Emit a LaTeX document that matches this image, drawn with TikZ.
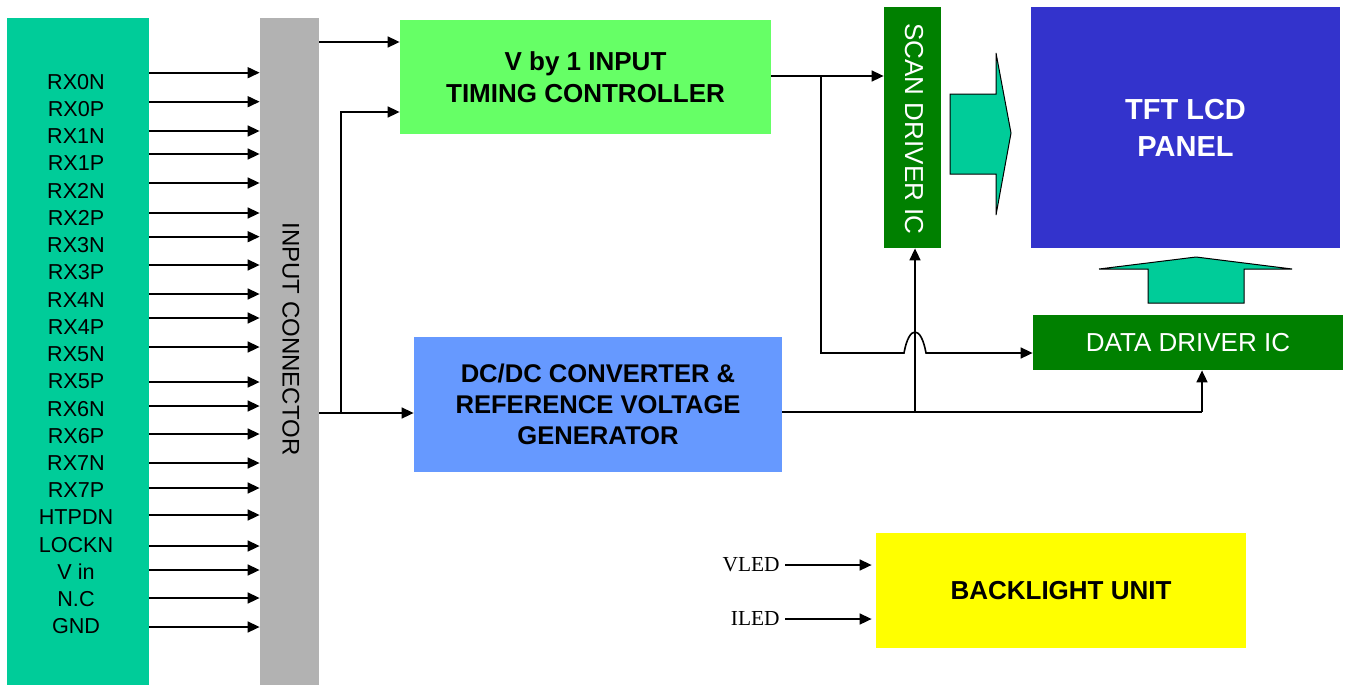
\documentclass[tikz,border=0pt]{standalone}
\usepackage{fontspec}
\setmainfont{Liberation Sans}
\newfontfamily\timesfont{Liberation Serif}
\usetikzlibrary{arrows.meta}
\usetikzlibrary{positioning}

\definecolor{rxgreen}{RGB}{0,204,153}
\definecolor{conngray}{RGB}{178,178,178}
\definecolor{tcongreen}{RGB}{102,255,102}
\definecolor{dcblue}{RGB}{102,153,255}
\definecolor{drvgreen}{RGB}{0,128,0}
\definecolor{lcdblue}{RGB}{51,51,204}
\definecolor{bluyellow}{RGB}{255,255,0}

\tikzset{
  block/.style={inner sep=0pt, draw=none},
  sigline/.style={line width=0.8pt, -{Triangle[length=6pt,width=5.5pt]}},
  wire/.style={line width=0.8pt},
  bigarrow/.style={fill=rxgreen, draw=black, line width=0.5pt},
}

\begin{document}
\begin{tikzpicture}[x=0.5pt,y=-0.5pt]
  \useasboundingbox (0,0) rectangle (1347,685);

  % Place blocks
  \node[block, fill=rxgreen, minimum width=71pt, minimum height=333.5pt] (rxpanel) at (78,351.5) {};
  \node[block, fill=conngray, minimum width=29.5pt, minimum height=333.5pt] (conn) at (289.5,351.5) {};
  \node[block, fill=tcongreen, minimum width=185.5pt, minimum height=57pt,
        font=\fontsize{13}{16}\selectfont\bfseries, align=center] (tcon) at (585.5,77) {V by 1 INPUT\\TIMING CONTROLLER};
  \node[block, fill=dcblue, minimum width=184pt, minimum height=67.5pt,
        font=\fontsize{12.8}{15.5}\selectfont\bfseries, align=center] (dcdc) at (598,404.5) {DC/DC CONVERTER \&\\REFERENCE VOLTAGE\\GENERATOR};
  \node[block, fill=drvgreen, minimum width=28.5pt, minimum height=120.5pt] (scan) at (912.5,127.5) {};
  \node[block, fill=lcdblue, minimum width=154.5pt, minimum height=120.5pt, text=white,
        font=\fontsize{14.5}{18.5}\selectfont\bfseries, align=center] (lcd) at (1185.5,127.5) {TFT LCD\\PANEL};
  \node[block, fill=drvgreen, minimum width=155pt, minimum height=27.5pt, text=white,
        font=\fontsize{13}{16}\selectfont] (data) at (1188,342.5) {DATA DRIVER IC};
  \node[block, fill=bluyellow, minimum width=185pt, minimum height=57.5pt,
        font=\fontsize{13}{16}\selectfont\bfseries] (blu) at (1061,590.5) {BACKLIGHT UNIT};

  % Rotated texts
  \node[rotate=-90, font=\fontsize{12}{14}\selectfont] (conntext) at (291,339) {INPUT CONNECTOR};
  \node[rotate=-90, text=white, font=\fontsize{13}{16}\selectfont] (scantext) at (914,129) {SCAN DRIVER IC};

  % Input signals
  \foreach \sig/\ay [count=\i from 0] in {RX0N/72.7, RX0P/101.7, RX1N/131, RX1P/154, RX2N/183,
      RX2P/213, RX3N/236.7, RX3P/265, RX4N/294, RX4P/318, RX5N/347, RX5P/382, RX6N/406,
      RX6P/434, RX7N/463, RX7P/488, HTPDN/515, LOCKN/546, V in/570, N.C/598, GND/627}{
    \node[font=\fontsize{10.8}{13}\selectfont] (sig\i) at (76,81.7+27.24*\i) {\sig};
    \coordinate (pin\i) at (0,\ay);
    \draw[sigline] (rxpanel.east |- pin\i) -- (conn.west |- pin\i);
  }

  % Connector outputs
  \coordinate (c1) at (0,42);
  \draw[sigline] (conn.east |- c1) -- (tcon.west |- c1);
  \coordinate (c2) at (341,413);
  \draw[sigline] (conn.east |- c2) -- (dcdc.west |- c2);
  \coordinate (c3) at (0,112);
  \draw[sigline] (c2) |- (tcon.west |- c3);

  % Timing controller outputs
  \coordinate (t1) at (821,76);
  \coordinate (t2) at (821,353);
  \coordinate (hop) at (915,353);
  \draw[sigline] (tcon.east |- t1) -- (scan.west |- t1);
  \draw[sigline] (t1) -- (t2) -- ([xshift=-5.5pt]hop)
    .. controls ([xshift=-3pt,yshift=14pt]hop) and ([xshift=3pt,yshift=14pt]hop) .. ([xshift=5.5pt]hop)
    -- (data.west |- t2);

  % Reference voltages
  \coordinate (v1) at (915,412);
  \coordinate (v2) at (1202,412);
  \draw[wire] (dcdc.east |- v1) -- (v2);
  \draw[sigline] (v1) -- (v1 |- scan.south);
  \draw[sigline] (v2) -- (v2 |- data.south);

  % Block arrows
  \draw[bigarrow] (950,94) -- (996,94) -- (996,53) -- (1011,133) -- (996,215) -- (996,174) -- (950,174) -- cycle;
  \draw[bigarrow] (1148,303) -- (1244,303) -- (1244,269) -- (1292,269) -- (1196,257) -- (1099,269) -- (1148,269) -- cycle;

  % Backlight inputs
  \node[font=\timesfont\fontsize{10.7}{13}\selectfont, anchor=east, inner sep=0pt] (vled) at (780,565) {VLED};
  \node[font=\timesfont\fontsize{10.7}{13}\selectfont, anchor=east, inner sep=0pt] (iled) at (780,619) {ILED};
  \draw[sigline, shorten <=2.5pt, shorten >=2pt] (vled.east) -- (blu.west |- vled.east);
  \draw[sigline, shorten <=2.5pt, shorten >=2pt] (iled.east) -- (blu.west |- iled.east);
\end{tikzpicture}
\end{document}
